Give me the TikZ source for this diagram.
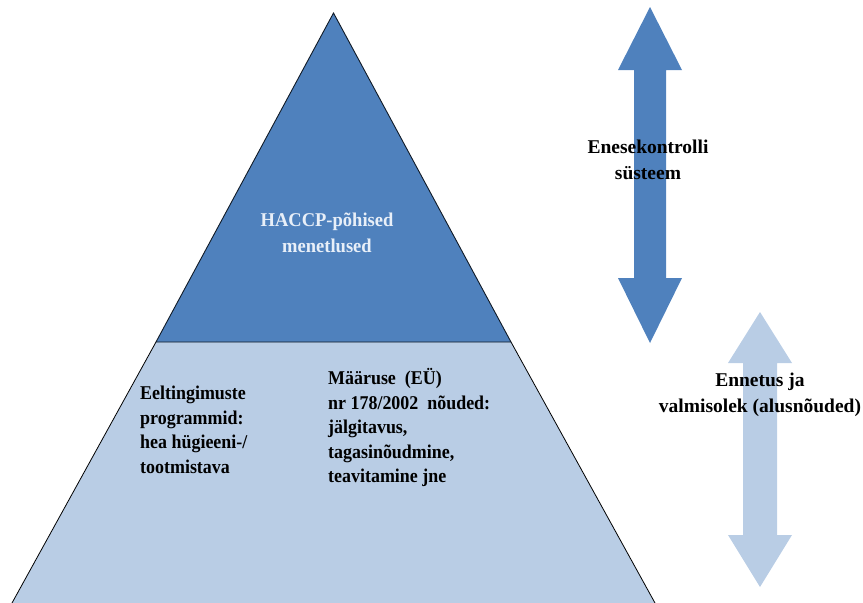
\documentclass[tikz,border=0pt]{standalone}
\usepackage{fontspec}
\setmainfont{Liberation Serif}
\newfontfamily\condA[FakeStretch=0.92]{Liberation Serif}
\newfontfamily\condB[FakeStretch=0.95]{Liberation Serif}
\definecolor{darkb}{HTML}{4F81BD}
\definecolor{lightb}{HTML}{B9CDE5}
\definecolor{paletxt}{HTML}{E8EFF8}
\begin{document}
\begin{tikzpicture}[x=1pt,y=-1pt,
  lbl/.style={font=\condA\fontsize{19.5}{24.6}\selectfont\bfseries, inner sep=0pt, align=left},
  clbl/.style={font=\fontsize{19.5}{25.5}\selectfont\bfseries, inner sep=0pt, align=center}]
\useasboundingbox (0,0) rectangle (863,603);
% bottom trapezoid
\fill[lightb] (156,342) -- (511,342) -- (655,603) -- (12,603) -- cycle;
\draw[black, line width=0.8pt] (156,342) -- (12,603);
\draw[black, line width=0.8pt] (511,342) -- (655,603);
% top triangle
\fill[darkb] (333.5,13) -- (511,342) -- (156,342) -- cycle;
\draw[black!80!darkb, line width=0.9pt] (333.5,13) -- (511,342) -- (156,342) -- cycle;
% dark arrow
\fill[darkb] (650,7) -- (682,70) -- (666,70) -- (666,278) -- (682,278) -- (650,343) -- (618,278) -- (634,278) -- (634,70) -- (618,70) -- cycle;
% light arrow
\fill[lightb] (760,312) -- (792,363) -- (777,363) -- (777,535) -- (792,535) -- (760,587) -- (728,535) -- (743,535) -- (743,363) -- (728,363) -- cycle;
% texts
\node[clbl, font=\condB\fontsize{19.5}{25.5}\selectfont\bfseries, text=paletxt] (haccp) at (327,233) {HACCP-põhised\\menetlused};
\node[clbl] (ene) at (648,160) {Enesekontrolli\\süsteem};
\node[clbl] (enn) at (760,395) {Ennetus ja\\valmisolek (alusnõuded)};
\node[lbl, anchor=north west] (eel) at (140,386) {Eeltingimuste\\programmid:\\hea hügieeni-/\\tootmistava};
\node[lbl, anchor=north west] (maa) at (328,368) {Määruse~~(EÜ)\\nr 178/2002~~nõuded:\\jälgitavus,\\tagasinõudmine,\\teavitamine jne};
\end{tikzpicture}
\end{document}
